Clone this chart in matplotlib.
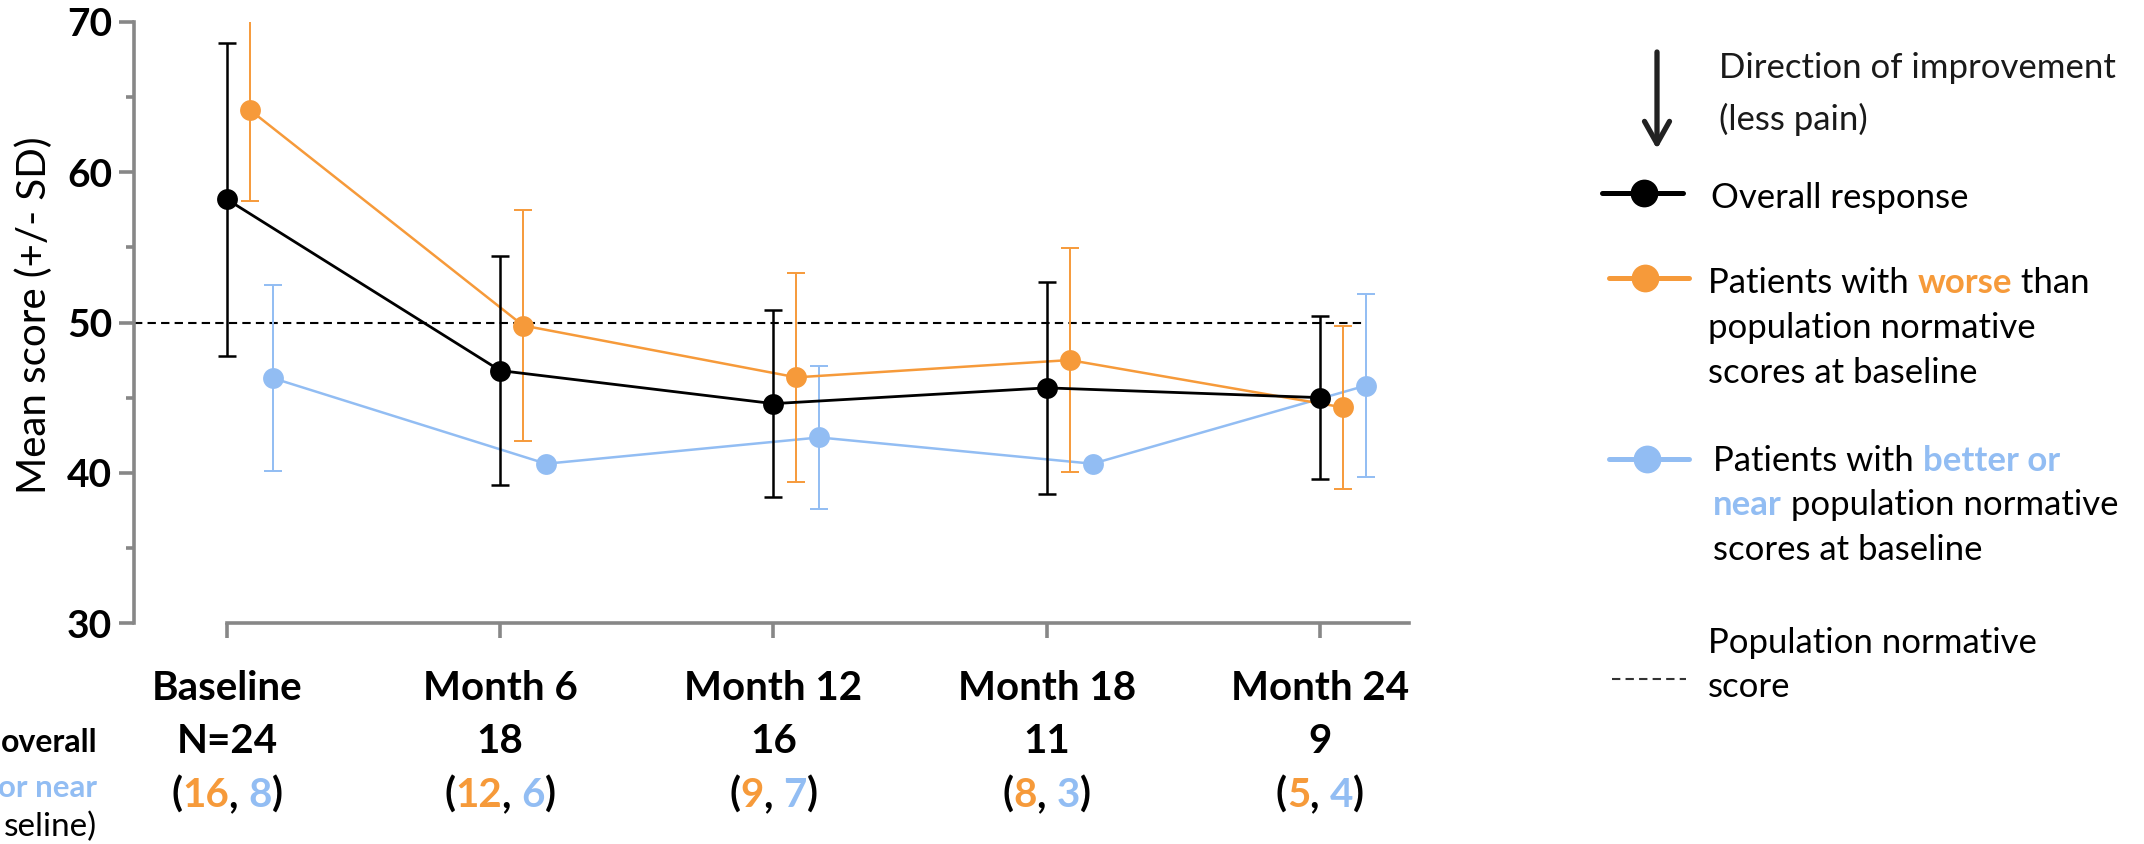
import matplotlib
matplotlib.use("Agg")
import matplotlib.pyplot as plt
from matplotlib.ticker import MultipleLocator
import numpy as np

# ---------------- data ----------------
categories = ["Baseline", "Month 6", "Month 12", "Month 18", "Month 24"]
n_overall = ["N=24", "18", "16", "11", "9"]
n_worse = ["16", "12", "9", "8", "5"]
n_better = ["8", "6", "7", "3", "4"]

overall_mean = [58.2, 46.8, 44.6, 45.65, 45.0]
overall_sd = [10.4, 7.6, 6.2, 7.05, 5.4]
worse_mean = [64.15, 49.8, 46.35, 47.5, 44.35]
worse_sd = [6.05, 7.7, 6.95, 7.45, 5.4]
better_mean = [46.3, 40.6, 42.35, 40.6, 45.8]
better_sd = [6.2, np.nan, 4.75, np.nan, 6.1]
norm_score = 50

yticks_major = [30, 40, 50, 60, 70]
ylabel = "Mean score (+/- SD)"

# ---------------- style ----------------
BLACK = "#000000"
ORANGE = "#F69A3A"
BLUE = "#92BDF3"
GREY = "#878787"

W, H, DPI = 2144, 844, 100
plt.rcParams['font.family'] = ['Lato', 'DejaVu Sans']

fig = plt.figure(figsize=(W / DPI, H / DPI), dpi=DPI)

ax_left, ax_right, ax_top, ax_bottom = 134, 1409, 22, 623
ax = fig.add_axes([ax_left / W, 1 - ax_bottom / H,
                   (ax_right - ax_left) / W, (ax_bottom - ax_top) / H])

x = np.arange(len(categories))
off_w, off_b = 0.084, 0.168
ax.set_xlim(-0.34, 4.326)
ax.set_ylim(30, 70)


def series(mean, sd, dx, color, lw_line, lw_err, z):
    xs = x + dx
    m = np.asarray(mean, float)
    s = np.asarray(sd, float)
    ok = np.isfinite(s)
    ax.errorbar(xs[ok], m[ok], yerr=s[ok], fmt='none', ecolor=color,
                elinewidth=lw_err, capsize=6.8, capthick=lw_err, zorder=z)
    ax.plot(xs, m, color=color, lw=lw_line, marker='o', ms=15,
            markeredgewidth=0, zorder=z + 0.5)


ax.hlines(norm_score, ax.get_xlim()[0], x[-1] + off_b, colors=BLACK,
          linestyles=(0, (4, 2.5)), lw=1.5, zorder=1)
series(better_mean, better_sd, off_b, BLUE, 1.8, 1.4, 2)
series(worse_mean, worse_sd, off_w, ORANGE, 1.8, 1.4, 3)
series(overall_mean, overall_sd, 0, BLACK, 2.0, 1.8, 4)

for s in ['top', 'right']:
    ax.spines[s].set_visible(False)
for s in ['left', 'bottom']:
    ax.spines[s].set_color(GREY)
    ax.spines[s].set_linewidth(2.6)
ax.spines['bottom'].set_bounds(0, ax.get_xlim()[1])
ax.set_xticks(x)
ax.set_xticklabels([])
ax.tick_params(axis='x', length=10.8, width=2.6, color=GREY)
ax.set_yticks(yticks_major)
ax.yaxis.set_minor_locator(MultipleLocator(5))
ax.tick_params(axis='y', which='major', length=10.8, width=2.6, color=GREY,
               labelsize=28, pad=5)
ax.tick_params(axis='y', which='minor', length=5.8, width=2.6, color=GREY)
for lab in ax.get_yticklabels():
    lab.set_fontweight('bold')
ax.patch.set_visible(False)

# ---------------- overlay for text / legend ----------------
ov = fig.add_axes([0, 0, 1, 1], zorder=5)
ov.set_xlim(0, W)
ov.set_ylim(H, 0)
ov.axis('off')
ov.patch.set_visible(False)

renderer = fig.canvas.get_renderer()


def twidth(s, size, weight):
    t = ov.text(0, 0, s, fontsize=size, fontweight=weight)
    w = t.get_window_extent(renderer=renderer).width
    t.remove()
    return w


def rich(xp, yb, pieces, size, ha='left'):
    advs = [twidth(s + "X", size, wgt) - twidth("X", size, wgt)
            for s, c, wgt in pieces]
    total = sum(advs)
    if ha == 'center':
        xs = xp - total / 2
    elif ha == 'right':
        xs = xp - total
    else:
        xs = xp
    for (s, c, wgt), a in zip(pieces, advs):
        ov.text(xs, yb, s, color=c, fontsize=size, fontweight=wgt,
                ha='left', va='baseline')
        xs += a


CAT_FS = 29
for i, cat in enumerate(categories):
    xp = ax.transData.transform((x[i], 0))[0]
    ov.text(xp, 700, cat, fontsize=CAT_FS, fontweight='bold', ha='center',
            va='baseline', color=BLACK)
    ov.text(xp, 753, n_overall[i], fontsize=CAT_FS, fontweight='bold',
            ha='center', va='baseline', color=BLACK)
    rich(xp, 807, [("(", BLACK, 'bold'), (n_worse[i], ORANGE, 'bold'),
                   (", ", BLACK, 'bold'), (n_better[i], BLUE, 'bold'),
                   (")", BLACK, 'bold')], CAT_FS, ha='center')

# truncated row headers on the far left
ov.text(97, 752, "overall", fontsize=23, fontweight='bold', ha='right',
        va='baseline', color=BLACK)
ov.text(97, 797, "or near", fontsize=22.5, fontweight='bold', ha='right',
        va='baseline', color=BLUE)
ov.text(97, 836, "seline)", fontsize=24, ha='right', va='baseline',
        color=BLACK)

# y label
ov.text(34, 315, ylabel, fontsize=29, rotation=90, ha='center', va='center',
        color=BLACK)

# legend
LFS = 25
ov.annotate('', xy=(1657, 149), xytext=(1657, 52),
            arrowprops=dict(arrowstyle='->,head_length=0.8,head_width=0.45',
                            lw=3.8, color='#222222', shrinkA=0, shrinkB=0,
                            mutation_scale=20))
ov.text(1719, 78, "Direction of improvement", fontsize=LFS, va='baseline',
        color='#1a1a1a')
ov.text(1719, 130, "(less pain)", fontsize=LFS, va='baseline',
        color='#1a1a1a')

ov.plot([1602, 1683], [193, 193], color=BLACK, lw=3.6, solid_capstyle='round')
ov.plot([1644], [193], 'o', ms=20, color=BLACK, markeredgewidth=0)
ov.text(1711, 208, "Overall response", fontsize=LFS, va='baseline')

ov.plot([1609, 1689], [278, 278], color=ORANGE, lw=3.6, solid_capstyle='round')
ov.plot([1645], [278], 'o', ms=20, color=ORANGE, markeredgewidth=0)
rich(1708, 293, [("Patients with ", BLACK, 'normal'), ("worse", ORANGE, 'bold'),
                 (" than", BLACK, 'normal')], LFS)
ov.text(1708, 338, "population normative", fontsize=LFS, va='baseline')
ov.text(1708, 383, "scores at baseline", fontsize=LFS, va='baseline')

ov.plot([1609, 1689], [459, 459], color=BLUE, lw=3.6, solid_capstyle='round')
ov.plot([1647], [459], 'o', ms=20, color=BLUE, markeredgewidth=0)
rich(1713, 471, [("Patients with ", BLACK, 'normal'),
                 ("better or", BLUE, 'bold')], LFS)
rich(1713, 515, [("near", BLUE, 'bold'),
                 (" population normative", BLACK, 'normal')], LFS)
ov.text(1713, 560, "scores at baseline", fontsize=LFS, va='baseline')

ov.plot([1612, 1686], [679, 679], color='#333333', lw=1.5,
        linestyle=(0, (4, 2.5)))
ov.text(1708, 653, "Population normative", fontsize=LFS, va='baseline')
ov.text(1708, 697, "score", fontsize=LFS, va='baseline')

fig.savefig("out.png", dpi=DPI, facecolor='white')
